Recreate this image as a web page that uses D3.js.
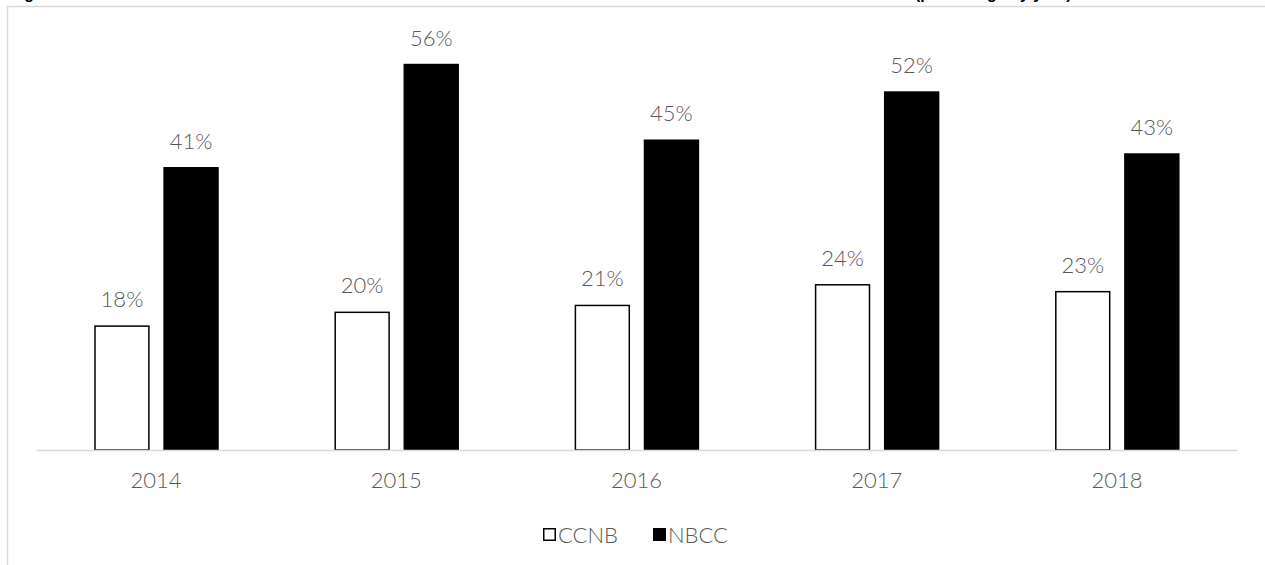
<!DOCTYPE html>
<html>
<head>
<meta charset="utf-8">
<script src="https://cdn.jsdelivr.net/npm/d3@7"></script>
<style>
  body { margin: 0; background: #fff; }
  svg { display: block; }
  text { font-family: "Lato", "DejaVu Sans", sans-serif; font-weight: 300; }
</style>
</head>
<body>
<div id="chart"></div>
<script>
// data
const years = ["2014", "2015", "2016", "2017", "2018"];
const seriesNames = ["CCNB", "NBCC"];
const ccnb = [18, 20, 21, 24, 23];
const nbcc = [41, 56, 45, 52, 43];
const fills = ["#ffffff", "#000000"];

const width = 1265;
const height = 565;
const labelSize = 22;

const svg = d3.select("#chart")
    .append("svg")
    .attr("width", width)
    .attr("height", height);

// title sits above the crop, only descenders show
svg.append("text")
    .attr("x", 10)
    .attr("y", -1)
    .style("font-family", "'Liberation Sans', Arial, sans-serif")
    .style("font-weight", "bold")
    .attr("font-size", 16)
    .attr("fill", "#000")
    .text("Figure 6: Share of CCNB and NBCC students in their last term who intend to work in New Brunswick after their studies (percentage by year)");

// chart frame
svg.append("path")
    .attr("d", "M7.5,570 L7.5,6.5 L1270,6.5")
    .attr("fill", "none")
    .attr("stroke", "#d9d9d9")
    .attr("stroke-width", 1.5);

const x0 = d3.scaleBand()
    .domain(years)
    .range([36, 1237]);

const x1 = d3.scaleBand()
    .domain(seriesNames)
    .range([59, 182])
    .paddingInner(0.22);

const y = d3.scaleLinear()
    .domain([0, 60])
    .range([450, 37]);

const rows = years.map((yr, i) => ({
    year: yr,
    values: [
        {name: "CCNB", v: ccnb[i]},
        {name: "NBCC", v: nbcc[i]}
    ]
}));

const groups = svg.append("g")
    .selectAll("g")
    .data(rows)
    .enter().append("g")
    .attr("transform", d => `translate(${x0(d.year)},0)`);

groups.selectAll("rect")
    .data(d => d.values)
    .enter().append("rect")
    .attr("x", d => x1(d.name))
    .attr("y", d => y(d.v))
    .attr("width", x1.bandwidth())
    .attr("height", d => y(0) - y(d.v))
    .attr("fill", (d, i) => fills[i])
    .attr("stroke", "#000")
    .attr("stroke-width", 1.5);

groups.selectAll("text")
    .data(d => d.values)
    .enter().append("text")
    .attr("x", d => x1(d.name) + x1.bandwidth() / 2)
    .attr("y", d => y(d.v) - 19)
    .attr("text-anchor", "middle")
    .attr("font-size", labelSize)
    .attr("fill", "#595959")
    .text(d => d.v + "%");

// x axis
const xAxis = svg.append("g")
    .attr("transform", `translate(0,${y(0)})`)
    .call(d3.axisBottom(x0).tickSize(0).tickPadding(22));
xAxis.select(".domain")
    .attr("stroke", "#d9d9d9")
    .attr("stroke-width", 1.5);
xAxis.selectAll("text")
    .attr("font-size", labelSize)
    .attr("fill", "#595959")
    .attr("font-family", null);

// legend
const legendX = [543, 653];
const legend = svg.append("g")
    .selectAll("g")
    .data(seriesNames)
    .enter().append("g")
    .attr("transform", (d, i) => `translate(${legendX[i]},528)`);

legend.append("rect")
    .attr("x", 0.75)
    .attr("y", 0.75)
    .attr("width", 11.5)
    .attr("height", 11.5)
    .attr("fill", (d, i) => fills[i])
    .attr("stroke", "#000")
    .attr("stroke-width", 1.5);

legend.append("text")
    .attr("x", 15)
    .attr("y", 15)
    .attr("font-size", labelSize)
    .attr("fill", "#595959")
    .text(d => d);
</script>
</body>
</html>
